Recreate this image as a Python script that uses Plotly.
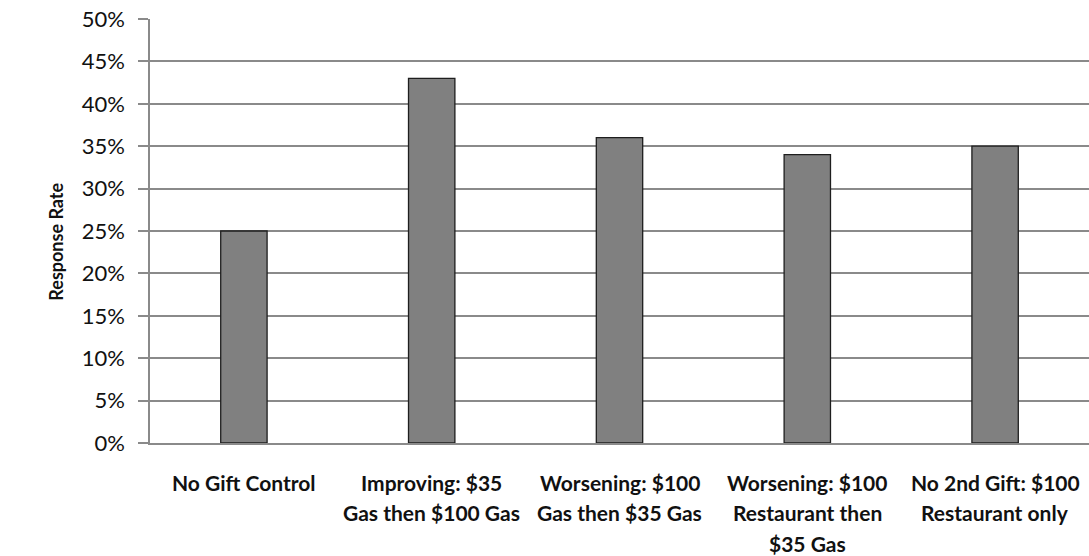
import plotly.graph_objects as go

# Response rate by gift sequence
categories = [
    "No Gift Control",
    "Improving: $35<br>Gas then $100 Gas",
    "Worsening: $100<br>Gas then $35 Gas",
    "Worsening: $100<br>Restaurant then<br>$35 Gas",
    "No 2nd Gift: $100<br>Restaurant only",
]
response_rate = [0.25, 0.43, 0.36, 0.34, 0.35]
y_ticks = [0.0, 0.05, 0.10, 0.15, 0.20, 0.25, 0.30, 0.35, 0.40, 0.45, 0.50]
y_tick_labels = ["0%", "5%", "10%", "15%", "20%", "25%", "30%", "35%", "40%", "45%", "50%"]

TEXT = "#111111"
GRID = "#8a8a8a"

fig = go.Figure(
    go.Bar(
        x=categories,
        y=response_rate,
        marker=dict(color="#808080", line=dict(color="#1e1e1e", width=1.3)),
        hoverinfo="skip",
    )
)

fig.update_layout(
    width=1089,
    height=556,
    margin=dict(l=150, r=0, t=19, b=113),
    paper_bgcolor="white",
    plot_bgcolor="white",
    bargap=0.753,
    showlegend=False,
    font=dict(family="Lato, 'Open Sans', sans-serif", color=TEXT),
)

fig.update_yaxes(
    range=[0, 0.5],
    tickvals=y_ticks,
    ticktext=y_tick_labels,
    showgrid=True,
    gridcolor=GRID,
    gridwidth=1.5,
    showline=True,
    linecolor=GRID,
    linewidth=1.5,
    ticks="outside",
    ticklen=10,
    tickcolor=GRID,
    tickwidth=1.5,
    ticklabelstandoff=9,
    tickfont=dict(size=22, color=TEXT),
    zeroline=False,
    fixedrange=True,
)

# Category labels are drawn line by line below the axis for wider line spacing
fig.update_xaxes(
    showline=True,
    linecolor=GRID,
    linewidth=1.5,
    ticks="",
    showticklabels=False,
    fixedrange=True,
)

for cat in categories:
    for i, line in enumerate(cat.split("<br>")):
        fig.add_annotation(
            x=cat,
            y=0,
            xref="x",
            yref="y",
            text=f"<b>{line}</b>",
            showarrow=False,
            xanchor="center",
            yanchor="middle",
            yshift=-(39.5 + 30.3 * i),
            font=dict(size=21, color=TEXT),
        )

fig.add_annotation(
    text="<b>Response Rate</b>",
    xref="paper",
    yref="paper",
    x=-0.1,
    y=0.475,
    xanchor="center",
    yanchor="middle",
    textangle=-90,
    showarrow=False,
    font=dict(size=18, color=TEXT),
)

fig.write_html("out.html")
